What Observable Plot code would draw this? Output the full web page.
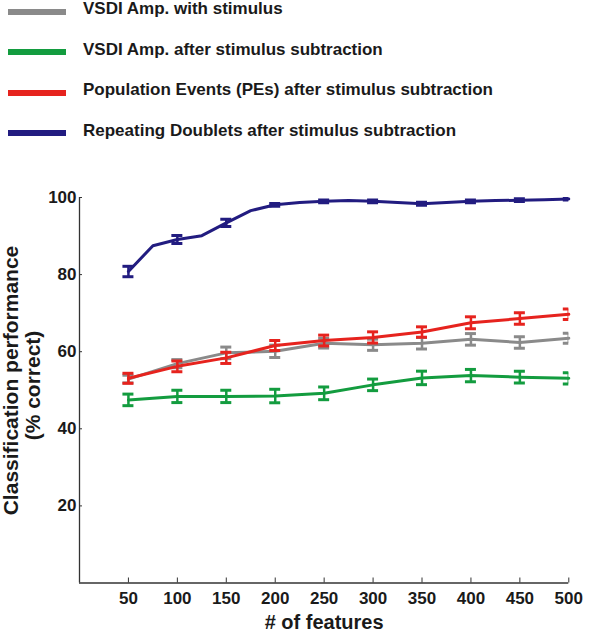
<!DOCTYPE html>
<html><head><meta charset="utf-8">
<script src="https://cdn.jsdelivr.net/npm/d3@7"></script>
<script src="https://cdn.jsdelivr.net/npm/@observablehq/plot@0.6"></script>
<style>
body{margin:0;background:#fff;font-family:"Liberation Sans",Arial,sans-serif;}
#legend{position:relative;height:165px;width:616px;}
.row{position:absolute;left:0;height:20px;width:616px;}
.sw{position:absolute;left:8px;width:58px;height:6px;top:9.5px;}
.lb{position:absolute;left:83px;top:0;line-height:20px;font-size:17px;font-weight:bold;color:#1a1a1a;white-space:nowrap;}
</style></head><body>
<div id="legend"></div><div id="chart"></div>
<script>
// ---- data ----
const seriesNames = [
  "VSDI Amp. with stimulus",
  "VSDI Amp. after stimulus subtraction",
  "Population Events (PEs) after stimulus subtraction",
  "Repeating Doublets after stimulus subtraction"
];
const seriesColors = ["#8a8a8a", "#139c3f", "#e6231e", "#221c80"];
const features = [50, 100, 150, 200, 250, 300, 350, 400, 450, 500];
const grayMean  = [52.9, 56.9, 59.7, 60.1, 62.2, 61.8, 62.2, 63.2, 62.4, 63.5];
const grayErr   = [1.0, 1.05, 1.5, 1.6, 1.25, 1.45, 1.5, 1.5, 1.5, 1.3];
const greenMean = [47.5, 48.4, 48.4, 48.5, 49.2, 51.4, 53.2, 53.8, 53.4, 53.1];
const greenErr  = [1.5, 1.6, 1.6, 1.75, 1.65, 1.5, 1.75, 1.6, 1.55, 1.45];
const redMean   = [53.1, 56.2, 58.4, 61.6, 62.9, 63.7, 65.1, 67.5, 68.6, 69.7];
const redErr    = [1.3, 1.4, 1.45, 1.3, 1.4, 1.45, 1.35, 1.55, 1.5, 1.35];
const blueFeatures = [50, 75, 100, 125, 150, 175, 200, 225, 250, 275, 300, 325, 350, 375, 400, 425, 450, 475, 500];
const blueMean  = [80.8, 87.5, 89.1, 90.1, 93.4, 96.6, 98.1, 98.7, 99.0, 99.2, 99.0, 98.7, 98.4, 98.7, 99.0, 99.2, 99.3, 99.4, 99.6];
const blueErr   = [1.35, 1.05, 0.95, 0.35, 0.35, 0.35, 0.4, 0.35, 0.35, 0.25];
const xTicks = [50, 100, 150, 200, 250, 300, 350, 400, 450, 500];
const yTicks = [20, 40, 60, 80, 100];

// ---- legend ----
const legend = document.getElementById("legend");
seriesNames.forEach((name, i) => {
  const row = document.createElement("div");
  row.className = "row";
  row.style.top = (9 + i * 40.6 - 10) + "px";
  const sw = document.createElement("div");
  sw.className = "sw"; sw.style.background = seriesColors[i];
  const lb = document.createElement("div");
  lb.className = "lb"; lb.textContent = name;
  row.appendChild(sw); row.appendChild(lb);
  legend.appendChild(row);
});

// ---- tables ----
const lines = [
  {c: seriesColors[0], rows: features.map((x, i) => ({x, y: grayMean[i]}))},
  {c: seriesColors[1], rows: features.map((x, i) => ({x, y: greenMean[i]}))},
  {c: seriesColors[2], rows: features.map((x, i) => ({x, y: redMean[i]}))},
  {c: seriesColors[3], rows: blueFeatures.map((x, i) => ({x, y: blueMean[i]}))}
];
const errs = [
  {c: seriesColors[0], rows: features.map((x, i) => ({x, lo: grayMean[i] - grayErr[i], hi: grayMean[i] + grayErr[i]}))},
  {c: seriesColors[1], rows: features.map((x, i) => ({x, lo: greenMean[i] - greenErr[i], hi: greenMean[i] + greenErr[i]}))},
  {c: seriesColors[2], rows: features.map((x, i) => ({x, lo: redMean[i] - redErr[i], hi: redMean[i] + redErr[i]}))},
  {c: seriesColors[3], rows: features.map((x, i) => {
    const m = blueMean[blueFeatures.indexOf(x)];
    return {x, lo: m - blueErr[i], hi: m + blueErr[i]};
  })}
];

const marks = [
  Plot.axisX({ticks: xTicks, tickSize: 5, dy: -5, tickFormat: () => "", label: null, stroke: "#333"}),
  Plot.axisX({ticks: xTicks, tickSize: 0, tickPadding: 9, label: null}),
  Plot.axisY({ticks: yTicks, tickSize: 3, dx: 3, tickFormat: () => "", label: null, stroke: "#333"}),
  Plot.axisY({ticks: yTicks, tickSize: 0, tickPadding: 3, label: null}),
  Plot.ruleX([0], {y1: 0, y2: 100, stroke: "#333", strokeWidth: 1.3}),
  Plot.ruleY([0], {x1: 0, x2: 500, stroke: "#333", strokeWidth: 1.3})
];
lines.forEach((s, i) => {
  const e = errs[i];
  marks.push(Plot.line(s.rows, {x: "x", y: "y", stroke: s.c, strokeWidth: 3, strokeLinejoin: "round"}));
  marks.push(Plot.ruleX(e.rows, {x: "x", y1: "lo", y2: "hi", stroke: e.c, strokeWidth: 2.5, clip: true}));
  marks.push(Plot.ruleY(e.rows, {x1: "x", x2: "x", y: "lo", insetLeft: -5.5, insetRight: -5.5, stroke: e.c, strokeWidth: 3, clip: true}));
  marks.push(Plot.ruleY(e.rows, {x1: "x", x2: "x", y: "hi", insetLeft: -5.5, insetRight: -5.5, stroke: e.c, strokeWidth: 3, clip: true}));
});
marks.push(Plot.text(["Classification performance"], {text: d => d, frameAnchor: "left", textAnchor: "middle", lineAnchor: "middle", rotate: -90, dx: -68.5, dy: -9.75, fontSize: 21, fontWeight: "bold", fill: "#1a1a1a"}));
marks.push(Plot.text(["(% correct)"], {text: d => d, frameAnchor: "left", textAnchor: "middle", lineAnchor: "middle", rotate: -90, dx: -46, dy: -4.75, fontSize: 21, fontWeight: "bold", fill: "#1a1a1a"}));
marks.push(Plot.text(["# of features"], {text: d => d, frameAnchor: "bottom", textAnchor: "middle", lineAnchor: "middle", dy: 39.5, fontSize: 20, fontWeight: "bold", fill: "#1a1a1a"}));

const chart = Plot.plot({
  width: 616, height: 475,
  marginLeft: 79, marginRight: 47.7, marginTop: 32, marginBottom: 57.5,
  x: {domain: [0, 500]},
  y: {domain: [0, 100]},
  style: {fontFamily: '"Liberation Sans", Arial, sans-serif', fontSize: "17px", fontWeight: "bold", color: "#1a1a1a", background: "white", overflow: "visible"},
  marks
});
document.getElementById("chart").appendChild(chart);
</script>
</body></html>
